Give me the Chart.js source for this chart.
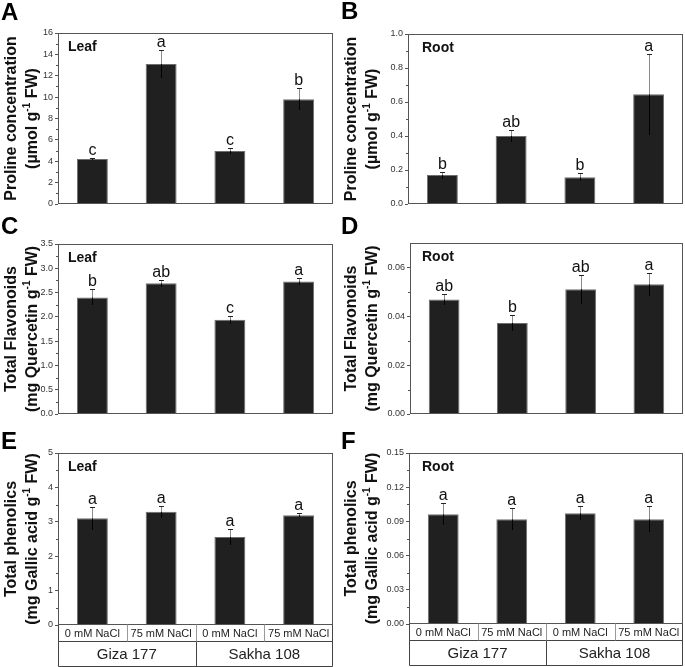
<!DOCTYPE html>
<html lang="en">
<head>
    <meta charset="UTF-8">
    <title>Proline, flavonoids and phenolics</title>
    <style>
        body { margin: 0; background: #fff; width: 685px; height: 667px; position: relative; overflow: hidden; }
        .panel { position: absolute; }
        .panel canvas { display: block; }
    </style>
</head>
<body>

    <div class="panel" style="left:0;top:0"><canvas id="panelA" width="340" height="215"></canvas></div>
    <div class="panel" style="left:340px;top:0"><canvas id="panelB" width="345" height="215"></canvas></div>
    <div class="panel" style="left:0;top:215px"><canvas id="panelC" width="340" height="215"></canvas></div>
    <div class="panel" style="left:340px;top:215px"><canvas id="panelD" width="345" height="215"></canvas></div>
    <div class="panel" style="left:0;top:430px"><canvas id="panelE" width="340" height="237"></canvas></div>
    <div class="panel" style="left:340px;top:430px"><canvas id="panelF" width="345" height="237"></canvas></div>

<script src="https://cdn.jsdelivr.net/npm/chart.js"></script>
<script>
// categories
const treatments = ['0 mM NaCl', '75 mM NaCl', '0 mM NaCl', '75 mM NaCl'];
const cultivars = ['Giza 177', 'Sakha 108'];

// A - proline, leaf
const prolineLeaf = [4.2, 13.1, 4.95, 9.8];
const prolineLeafErr = [0.1, 1.35, 0.3, 1.02];
const prolineLeafGroups = ['c', 'a', 'c', 'b'];

// B - proline, root
const prolineRoot = [0.17, 0.40, 0.157, 0.645];
const prolineRootErr = [0.02, 0.033, 0.023, 0.238];
const prolineRootGroups = ['b', 'ab', 'b', 'a'];

// C - flavonoids, leaf
const flavLeaf = [2.40, 2.69, 1.94, 2.73];
const flavLeafErr = [0.165, 0.07, 0.08, 0.07];
const flavLeafGroups = ['b', 'ab', 'c', 'a'];

// D - flavonoids, root
const flavRoot = [0.0469, 0.0373, 0.0511, 0.0531];
const flavRootErr = [0.0024, 0.0034, 0.006, 0.0048];
const flavRootGroups = ['ab', 'b', 'ab', 'a'];

// E - phenolics, leaf
const phenLeaf = [3.10, 3.29, 2.56, 3.19];
const phenLeafErr = [0.34, 0.18, 0.22, 0.06];
const phenLeafGroups = ['a', 'a', 'a', 'a'];

// F - phenolics, root
const phenRoot = [0.0962, 0.0918, 0.0971, 0.0918];
const phenRootErr = [0.0097, 0.0097, 0.006, 0.0115];
const phenRootGroups = ['a', 'a', 'a', 'a'];

// y-axis ranges
const yMax = { A: 16, B: 1.0, C: 3.5, D: 0.07, E: 5, F: 0.15 };
const yStep = { A: 2, B: 0.2, C: 0.5, D: 0.02, E: 1, F: 0.03 };
const yDecimals = { A: 0, B: 1, C: 1, D: 2, E: 0, F: 2 };

const FONT = '"Liberation Sans", Arial, Helvetica, sans-serif';
Chart.defaults.font.family = FONT;
Chart.defaults.color = '#333';

const prolineTitle = ['Proline concentration', [{ t: '(\u00b5mol g' }, { t: '-1', sup: true }, { t: ' FW)' }]];
const flavTitle = ['Total Flavonoids', [{ t: '(mg Quercetin g' }, { t: '-1', sup: true }, { t: ' FW)' }]];
const phenTitle = ['Total phenolics', [{ t: '(mg Gallic acid g' }, { t: '-1', sup: true }, { t: ' FW)' }]];

// panel setup (chart area edges inside each canvas)
const panels = {
    panelA: { tag: 'A', organ: 'Leaf', organX: 10, title: prolineTitle, values: prolineLeaf, errs: prolineLeafErr, groups: prolineLeafGroups, key: 'A', box: [58, 333, 33, 204], tagY: 20 },
    panelB: { tag: 'B', organ: 'Root', organX: 14, title: prolineTitle, values: prolineRoot, errs: prolineRootErr, groups: prolineRootGroups, key: 'B', box: [68, 343, 34, 204], tagY: 19 },
    panelC: { tag: 'C', organ: 'Leaf', organX: 10, title: flavTitle, values: flavLeaf, errs: flavLeafErr, groups: flavLeafGroups, key: 'C', box: [58, 333, 29, 199], tagY: 19 },
    panelD: { tag: 'D', organ: 'Root', organX: 12, title: flavTitle, values: flavRoot, errs: flavRootErr, groups: flavRootGroups, key: 'D', box: [70, 343, 28, 199], tagY: 19 },
    panelE: { tag: 'E', organ: 'Leaf', organX: 10, title: phenTitle, values: phenLeaf, errs: phenLeafErr, groups: phenLeafGroups, key: 'E', box: [58, 333, 23, 195], tagY: 19, table: true },
    panelF: { tag: 'F', organ: 'Root', organX: 13, title: phenTitle, values: phenRoot, errs: phenRootErr, groups: phenRootGroups, key: 'F', box: [69, 343, 23, 194], tagY: 19, table: true }
};

function line(ctx, x1, y1, x2, y2) {
    ctx.beginPath();
    ctx.moveTo(x1, y1);
    ctx.lineTo(x2, y2);
    ctx.stroke();
}

// rotated y title, pieces may be superscript
function drawRotated(ctx, segs, cx, cy) {
    ctx.save();
    ctx.translate(cx, cy);
    ctx.rotate(-Math.PI / 2);
    let total = 0;
    segs.forEach(s => {
        ctx.font = s.sup ? 'bold 10px ' + FONT : 'bold 16px ' + FONT;
        s.w = ctx.measureText(s.t).width;
        total += s.w;
    });
    let x = -total / 2;
    ctx.textAlign = 'left';
    ctx.textBaseline = 'middle';
    ctx.fillStyle = '#111';
    segs.forEach(s => {
        ctx.font = s.sup ? 'bold 10px ' + FONT : 'bold 16px ' + FONT;
        ctx.fillText(s.t, x, s.sup ? -6 : 0);
        x += s.w;
    });
    ctx.restore();
}

const panelDecor = {
    id: 'panelDecor',
    afterDatasetsDraw(chart) {
        const p = panels[chart.canvas.id];
        const ctx = chart.ctx;
        const a = chart.chartArea;
        const y = chart.scales.y;
        const meta = chart.getDatasetMeta(0);
        ctx.save();
        ctx.lineWidth = 1;

        // error bars and group letters
        meta.data.forEach((bar, i) => {
            const v = p.values[i], e = p.errs[i];
            const yTop = Math.round(y.getPixelForValue(v + e)) + 0.5;
            const yBot = Math.round(y.getPixelForValue(v - e)) + 0.5;
            const yBar = y.getPixelForValue(v);
            const x = Math.round(bar.x) + 0.5;
            ctx.strokeStyle = '#8a8a8a';
            line(ctx, x, yTop, x, yBar);
            ctx.strokeStyle = '#000';
            line(ctx, x, yBar, x, yBot);
            ctx.strokeStyle = '#222';
            line(ctx, x - 2.5, yTop, x + 2.5, yTop);
            line(ctx, x - 2.5, yBot, x + 2.5, yBot);
            ctx.fillStyle = '#111';
            ctx.font = '16px ' + FONT;
            ctx.textAlign = 'center';
            ctx.textBaseline = 'alphabetic';
            ctx.fillText(p.groups[i], bar.x, yTop - 4);
        });

        // frame
        ctx.strokeStyle = '#555';
        ctx.strokeRect(a.left + 0.5, a.top + 0.5, a.right - a.left - 1, a.bottom - a.top - 1);

        // minor ticks
        const step = yStep[p.key];
        for (let v = step / 2; v < yMax[p.key]; v += step) {
            if (Math.abs(v / step - Math.round(v / step)) < 1e-6) continue;
            const py = Math.round(y.getPixelForValue(v)) + 0.5;
            line(ctx, a.left - 2, py, a.left, py);
        }

        // organ label
        ctx.fillStyle = '#111';
        ctx.font = 'bold 14px ' + FONT;
        ctx.textAlign = 'left';
        ctx.textBaseline = 'alphabetic';
        ctx.fillText(p.organ, a.left + p.organX, a.top + 18);

        // panel tag
        ctx.font = 'bold 24px ' + FONT;
        ctx.fillStyle = '#000';
        ctx.fillText(p.tag, 1, p.tagY);

        // y title (two lines)
        const cy = (a.top + a.bottom) / 2;
        drawRotated(ctx, [{ t: p.title[0] }], 12, cy);
        drawRotated(ctx, p.title[1].map(s => Object.assign({}, s)), 33, cy);

        // category table under bottom panels
        if (p.table) {
            const y0 = a.bottom - 0.5, y1 = a.bottom + 16.5, y2 = a.bottom + 41.5;
            const L = a.left + 0.5, R = a.right - 0.5;
            const cw = (a.right - a.left) / treatments.length;
            ctx.strokeStyle = '#444';
            line(ctx, L, y0, L, y2);
            line(ctx, R, y0, R, y2);
            line(ctx, L, y1, R, y1);
            line(ctx, L, y2, R, y2);
            line(ctx, Math.round(a.left + cw * 2) + 0.5, y1, Math.round(a.left + cw * 2) + 0.5, y2);
            ctx.strokeStyle = '#999';
            for (let i = 1; i < treatments.length; i++) {
                const xv = Math.round(a.left + cw * i) + 0.5;
                line(ctx, xv, y0, xv, y1);
            }
            ctx.fillStyle = '#222';
            ctx.textAlign = 'center';
            ctx.textBaseline = 'middle';
            ctx.font = '11px ' + FONT;
            treatments.forEach((t, i) => ctx.fillText(t, a.left + cw * (i + 0.5), (y0 + y1) / 2 + 1));
            ctx.font = '15px ' + FONT;
            cultivars.forEach((c, i) => ctx.fillText(c, a.left + cw * (2 * i + 1), (y1 + y2) / 2 + 1));
        }
        ctx.restore();
    }
};

function makePanel(id) {
    const p = panels[id];
    const canvas = document.getElementById(id);
    const [left, right, top, bottom] = p.box;
    const step = yStep[p.key];
    return new Chart(canvas, {
        type: 'bar',
        data: {
            labels: treatments,
            datasets: [{
                data: p.values,
                backgroundColor: '#202020',
                borderColor: '#6e6e6e',
                borderWidth: 1,
                barPercentage: 0.45,
                categoryPercentage: 1
            }]
        },
        options: {
            responsive: false,
            animation: false,
            layout: { padding: { left: 0, right: canvas.width - right, top: top, bottom: canvas.height - bottom } },
            plugins: { legend: { display: false }, tooltip: { enabled: false } },
            scales: {
                x: { display: false },
                y: {
                    min: 0,
                    max: yMax[p.key],
                    afterFit: s => { s.width = left; },
                    afterBuildTicks: s => {
                        s.ticks = s.ticks.filter(t => Math.abs(t.value / step - Math.round(t.value / step)) < 1e-6);
                    },
                    ticks: {
                        stepSize: step,
                        autoSkip: false,
                        padding: 2,
                        color: '#333',
                        font: { size: 9 },
                        callback: v => Number(v).toFixed(yDecimals[p.key])
                    },
                    grid: { drawOnChartArea: false, tickLength: 3, color: '#555' },
                    border: { display: false }
                }
            }
        },
        plugins: [panelDecor]
    });
}

Object.keys(panels).forEach(makePanel);
</script>

</body>
</html>
